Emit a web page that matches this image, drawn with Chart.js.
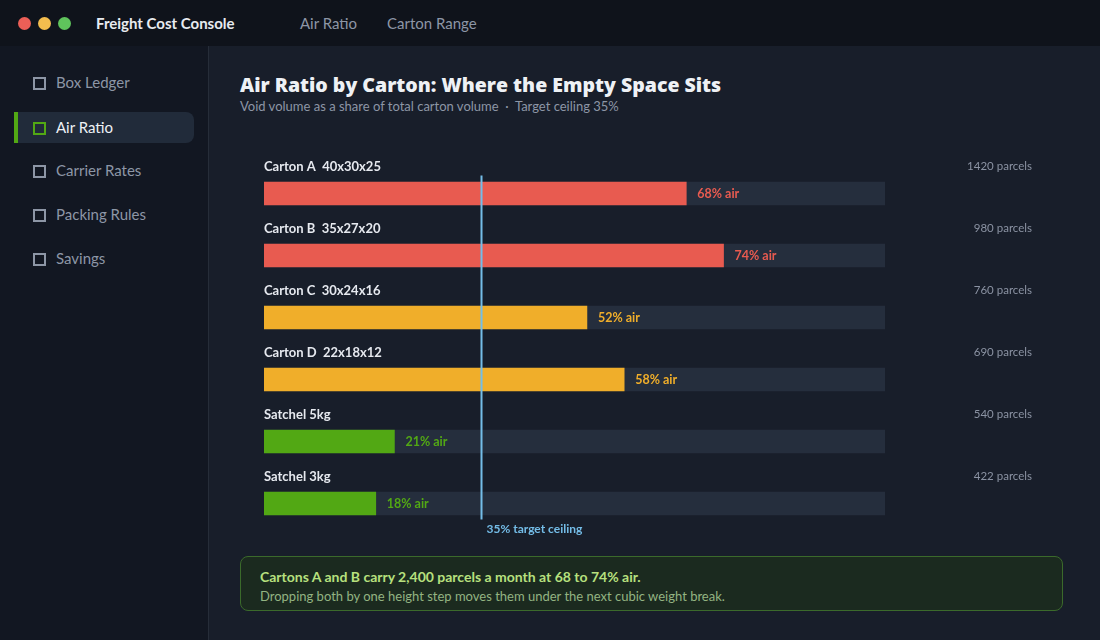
<!DOCTYPE html>
<html>
<head>
<meta charset="utf-8">
<script src="https://cdn.jsdelivr.net/npm/chart.js@4"></script>
<style>
  body { margin:0; width:1100px; height:640px; background:#181e2a; font-family:Lato, sans-serif; overflow:hidden; position:relative; }
  .top { position:absolute; left:0; top:0; width:1100px; height:46px; background:#0f131b; }
  .dot { position:absolute; top:17px; width:13px; height:13px; border-radius:50%; }
  .brand { position:absolute; left:96px; top:14px; color:#e8ebf0; font-weight:700; font-size:15px; }
  .tab { position:absolute; top:14px; color:#8d96a6; font-size:15px; }
  .side { position:absolute; left:0; top:46px; width:208px; height:594px; background:#121722; border-right:1px solid #262d39; }
  .item { position:absolute; left:14px; width:180px; height:31px; color:#8d96a6; font-size:15px; line-height:31px; }
  .item .box { position:absolute; left:19px; top:10px; width:9px; height:9px; border:2px solid #8d96a6; }
  .item span { position:absolute; left:42px; }
  .item.active { background:#212b3a; border-radius:0 8px 8px 0; color:#eef1f5; }
  .item.active:before { content:''; position:absolute; left:0; top:0; width:4px; height:31px; background:#52a814; }
  .item.active .box { border-color:#52a814; }
  h1 { position:absolute; left:240px; top:71px; margin:0; font-family:"Open Sans", sans-serif; font-weight:800; font-size:19.5px; color:#eef1f5; }
  .sub { position:absolute; left:240px; top:98px; color:#8d96a6; font-size:13px; }
  #wrap { position:absolute; left:240px; top:150px; width:820px; height:400px; }
  .note { position:absolute; left:240px; top:556px; width:823px; height:55px; box-sizing:border-box; background:#1b2a1f; border:1px solid #3b6a2b; border-radius:8px; padding:11px 19px; }
  .note b { display:block; color:#b7e07e; font-size:14px; }
  .note div { color:#93b482; font-size:13px; margin-top:3px; }
</style>
</head>
<body>
<div class="top">
  <div class="dot" style="left:18px;background:#ec5f57"></div>
  <div class="dot" style="left:38px;background:#f3bd4e"></div>
  <div class="dot" style="left:58px;background:#5fc35c"></div>
  <div class="brand">Freight Cost Console</div>
  <div class="tab" style="left:300px">Air Ratio</div>
  <div class="tab" style="left:387px">Carton Range</div>
</div>
<div class="side">
  <div class="item" style="top:21px"><i class="box"></i><span>Box Ledger</span></div>
  <div class="item active" style="top:66px"><i class="box"></i><span>Air Ratio</span></div>
  <div class="item" style="top:109px"><i class="box"></i><span>Carrier Rates</span></div>
  <div class="item" style="top:153px"><i class="box"></i><span>Packing Rules</span></div>
  <div class="item" style="top:197px"><i class="box"></i><span>Savings</span></div>
</div>
<h1>Air Ratio by Carton: Where the Empty Space Sits</h1>
<div class="sub">Void volume as a share of total carton volume &nbsp;·&nbsp; Target ceiling 35%</div>
<div id="wrap"><canvas id="chart"></canvas></div>
<div class="note">
  <b>Cartons A and B carry 2,400 parcels a month at 68 to 74% air.</b>
  <div>Dropping both by one height step moves them under the next cubic weight break.</div>
</div>
<script>
const cartons = ['Carton A  40x30x25', 'Carton B  35x27x20', 'Carton C  30x24x16', 'Carton D  22x18x12', 'Satchel 5kg', 'Satchel 3kg'];
const airPct = [68, 74, 52, 58, 21, 18];
const parcels = [1420, 980, 760, 690, 540, 422];
const target = 35;

function barColor(v) {
  if (v >= 65) return '#e85b50';
  if (v >= 35) return '#f0ae2a';
  return '#52a814';
}
const colors = airPct.map(barColor);

const labelPlugin = {
  id: 'labels',
  afterDatasetsDraw(chart) {
    const ctx = chart.ctx;
    const x = chart.scales.x, y = chart.scales.y;
    const area = chart.chartArea;
    ctx.save();
    ctx.textBaseline = 'middle';
    cartons.forEach((name, i) => {
      const cy = y.getPixelForValue(i);
      ctx.textAlign = 'left';
      ctx.font = 'bold 13px Lato';
      ctx.fillStyle = '#e6e9ef';
      ctx.fillText(name, area.left, cy - 27);
      ctx.font = 'bold 12.5px Lato';
      ctx.fillStyle = colors[i];
      ctx.fillText(airPct[i] + '% air', x.getPixelForValue(airPct[i]) + 11, cy);
      ctx.textAlign = 'right';
      ctx.font = '11.5px Lato';
      ctx.fillStyle = '#8b93a3';
      ctx.fillText(parcels[i] + ' parcels', chart.width - 28, cy - 27);
    });
    const tx = Math.round(x.getPixelForValue(target)) + 0.5;
    ctx.strokeStyle = '#74bde8';
    ctx.lineWidth = 2;
    ctx.beginPath();
    ctx.moveTo(tx, area.top + 13);
    ctx.lineTo(tx, area.bottom - 15);
    ctx.stroke();
    ctx.textAlign = 'left';
    ctx.font = 'bold 12px Lato';
    ctx.fillStyle = '#74bde8';
    ctx.fillText(target + '% target ceiling', tx + 5, area.bottom - 5);
    ctx.restore();
  }
};

new Chart(document.getElementById('chart'), {
  type: 'bar',
  data: {
    labels: cartons,
    datasets: [
      { data: airPct, backgroundColor: colors, barThickness: 23, grouped: false, order: 0 },
      { data: cartons.map(() => 100), backgroundColor: '#252e3d', barThickness: 23, grouped: false, order: 1 }
    ]
  },
  options: {
    indexAxis: 'y',
    responsive: true,
    maintainAspectRatio: false,
    animation: false,
    layout: { padding: { left: 24, right: 175, top: 12.5, bottom: 15.5 } },
    plugins: { legend: { display: false }, tooltip: { enabled: false } },
    scales: {
      x: { display: false, min: 0, max: 100 },
      y: { display: false }
    }
  },
  plugins: [labelPlugin]
});
</script>
</body>
</html>
